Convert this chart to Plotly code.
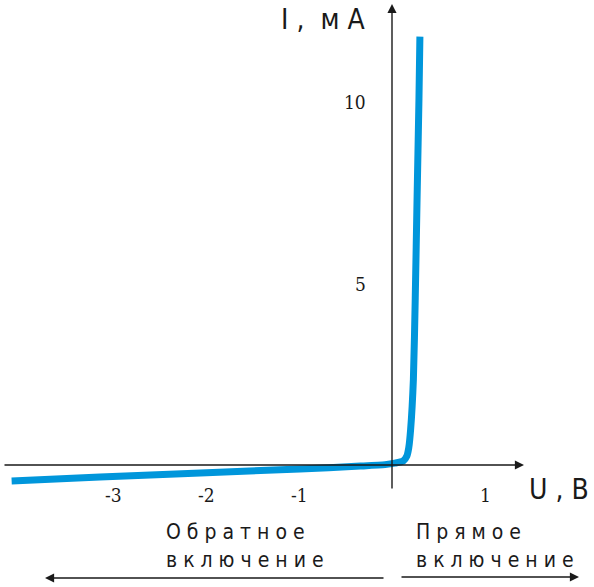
import plotly.graph_objects as go

# Diode I-V characteristic
voltage_V = [-4.09, -3.14, -2.06, -0.99, -0.34, -0.075, 0.03, 0.12, 0.16, 0.18, 0.20, 0.23, 0.25, 0.27, 0.29, 0.30]
current_mA = [-0.44, -0.33, -0.22, -0.11, -0.03, 0.01, 0.05, 0.11, 0.25, 0.47, 0.97, 2.36, 4.6, 7.4, 10.1, 11.8]

x_tick_vals = [-3, -2, -1, 1]
x_tick_text = ["-3", "-2", "-1", "1"]
y_tick_vals = [5, 10]
y_tick_text = ["5", "10"]

W, H = 594, 587
X0, KX = 392, 93.0   # pixel of U=0, px per volt
Y0, KY = 465, 36.3   # pixel of I=0, px per mA

def dx(p):
    return (p - X0) / KX

def dy(p):
    return (Y0 - p) / KY

fig = go.Figure()
fig.add_trace(go.Scatter(
    x=voltage_V, y=current_mA, mode="lines",
    line=dict(color="rgb(0,150,219)", width=7, shape="spline", smoothing=0.6),
    hoverinfo="skip", showlegend=False,
))

ann = []
def arrow(x1, y1, x0, y0):
    return dict(x=dx(x1), y=dy(y1), ax=dx(x0), ay=dy(y0), xref="x", yref="y", axref="x", ayref="y",
                text="", showarrow=True, arrowhead=2, arrowsize=1.3, arrowwidth=1.4,
                arrowcolor="#1a1a1a", standoff=0)

# axes as arrows
ann.append(arrow(524, 465, 3, 465))
ann.append(arrow(392, 4, 392, 490))
# bottom direction arrows
ann.append(arrow(45, 578, 385, 578))
ann.append(arrow(579, 577, 400, 577))

tick_font = dict(family="DejaVu Serif Condensed, Liberation Serif, serif", size=19, color="#1a1a1a")
for v, t in zip(x_tick_vals, x_tick_text):
    ann.append(dict(x=v, y=dy(495), xref="x", yref="y", text=t, showarrow=False,
                    xanchor="center", yanchor="middle", font=tick_font))
for v, t in zip(y_tick_vals, y_tick_text):
    ann.append(dict(x=dx(368), y=v, xref="x", yref="y", text=t, showarrow=False,
                    xanchor="right", yanchor="middle", font=tick_font))

lab_font = dict(family="DejaVu Sans Condensed, Liberation Sans, sans-serif", size=28, color="#1a1a1a")
ann.append(dict(x=dx(279), y=dy(19), xref="x", yref="y", text="I ,  м А", showarrow=False,
                xanchor="left", yanchor="middle", font=lab_font))
ann.append(dict(x=dx(527), y=dy(489), xref="x", yref="y", text="U , B", showarrow=False,
                xanchor="left", yanchor="middle", font=lab_font))

txt_font = dict(family="DejaVu Sans Condensed, Liberation Sans, sans-serif", size=21, color="#1a1a1a")
ann.append(dict(x=dx(164), y=dy(532), xref="x", yref="y", text="О б р а т н о е", showarrow=False,
                xanchor="left", yanchor="middle", font=txt_font))
ann.append(dict(x=dx(164), y=dy(560), xref="x", yref="y", text="в к л ю ч е н и е", showarrow=False,
                xanchor="left", yanchor="middle", font=txt_font))
ann.append(dict(x=dx(414), y=dy(532), xref="x", yref="y", text="П р я м о е", showarrow=False,
                xanchor="left", yanchor="middle", font=txt_font))
ann.append(dict(x=dx(414), y=dy(560), xref="x", yref="y", text="в к л ю ч е н и е", showarrow=False,
                xanchor="left", yanchor="middle", font=txt_font))

fig.update_layout(
    width=W, height=H, autosize=False,
    margin=dict(l=0, r=0, t=0, b=0),
    paper_bgcolor="white", plot_bgcolor="white",
    xaxis=dict(range=[dx(0), dx(W)], visible=False, fixedrange=True),
    yaxis=dict(range=[dy(H), dy(0)], visible=False, fixedrange=True),
    annotations=ann,
    showlegend=False,
)

fig.write_html("out.html", config={"displayModeBar": False},
               post_script="document.body.style.margin='0px';document.body.style.overflow='hidden';")
